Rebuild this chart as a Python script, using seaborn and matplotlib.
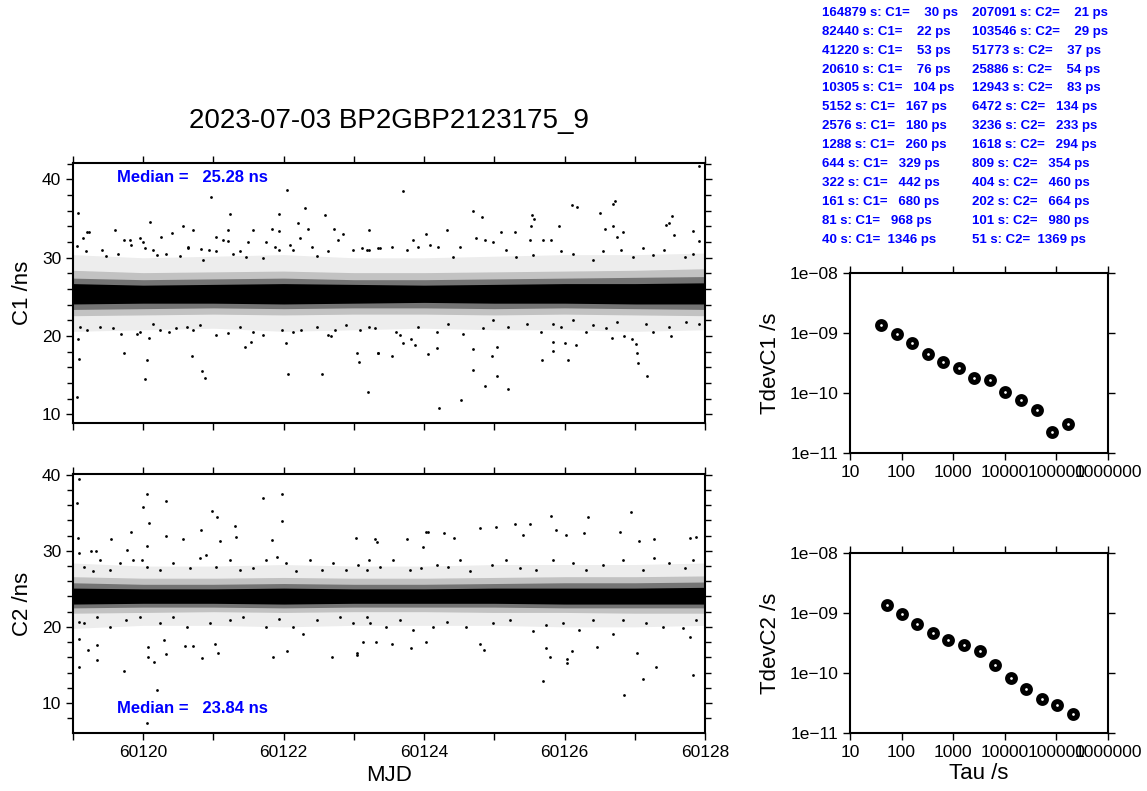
import numpy as np
import pandas as pd
import seaborn as sns
from matplotlib import pyplot as plt
from matplotlib.ticker import MultipleLocator, FuncFormatter, NullLocator, FixedLocator

title = '2023-07-03 BP2GBP2123175_9'

# envelope of the dense band of points (ns), read at whole MJD days
band_mjd = [60119, 60120, 60121, 60122, 60123, 60124, 60125, 60126, 60127, 60128]
c1_core_lo = [24.1, 24.2, 24.2, 24.1, 24.2, 24.3, 24.2, 24.2, 24.1, 24.1]
c1_core_hi = [26.7, 26.5, 26.6, 26.7, 26.6, 26.5, 26.6, 26.7, 26.7, 26.8]
c1_dense_lo = [23.4, 23.5, 23.6, 23.5, 23.6, 23.6, 23.5, 23.6, 23.5, 23.4]
c1_dense_hi = [27.4, 27.2, 27.3, 27.4, 27.2, 27.2, 27.3, 27.4, 27.5, 27.6]
c1_mid_lo = [22.6, 22.7, 22.8, 22.7, 22.8, 22.8, 22.7, 22.8, 22.7, 22.6]
c1_mid_hi = [28.4, 28.1, 28.2, 28.3, 28.1, 28.1, 28.2, 28.3, 28.4, 28.6]
c1_out_lo = [20.6, 20.8, 21.0, 20.6, 20.8, 21.0, 20.8, 20.8, 20.6, 20.8]
c1_out_hi = [30.4, 30.0, 30.2, 30.4, 30.0, 30.0, 30.2, 30.4, 30.4, 30.6]

c2_core_lo = [23.0, 23.1, 23.1, 23.0, 23.1, 23.1, 23.1, 23.0, 23.0, 23.0]
c2_core_hi = [25.1, 25.0, 25.0, 25.1, 25.0, 25.0, 25.1, 25.1, 25.1, 25.2]
c2_dense_lo = [22.5, 22.6, 22.6, 22.5, 22.6, 22.6, 22.6, 22.5, 22.5, 22.5]
c2_dense_hi = [25.8, 25.6, 25.6, 25.7, 25.6, 25.6, 25.7, 25.8, 25.8, 25.9]
c2_mid_lo = [21.8, 21.9, 22.0, 21.9, 22.0, 22.0, 21.9, 21.9, 21.8, 21.8]
c2_mid_hi = [26.6, 26.4, 26.4, 26.5, 26.4, 26.4, 26.5, 26.6, 26.6, 26.7]
c2_out_lo = [19.8, 20.2, 20.2, 20.0, 20.2, 20.2, 20.2, 20.0, 20.0, 20.2]
c2_out_hi = [28.4, 28.0, 28.0, 28.2, 28.0, 28.0, 28.2, 28.2, 28.2, 28.4]

# isolated points
c1_mjd = [60119.07, 60119.06, 60119.14, 60119.20, 60119.23, 60119.06, 60119.08, 60119.07,
          60119.60, 60119.73, 60119.73, 60119.95, 60120.02, 60120.06, 60120.10, 60120.08,
          60120.25, 60120.41, 60120.57, 60120.64, 60120.71, 60120.70, 60120.83, 60120.88,
          60120.96, 60121.04, 60121.23, 60121.21, 60121.45, 60121.54, 60121.57, 60121.84,
          60121.94, 60121.93, 60122.05, 60122.04, 60122.06, 60122.20, 60122.31, 60122.35,
          60122.54, 60122.59, 60122.72, 60122.63, 60122.68, 60123.04, 60123.07, 60123.20,
          60123.21, 60123.34, 60123.70, 60123.84, 60124.03, 60124.33, 60124.70, 60124.83,
          60125.10, 60125.30, 60125.54, 60125.57, 60125.52, 60125.51, 60125.92, 60126.11,
          60126.18, 60126.51, 60126.69, 60126.72, 60126.57, 60126.69, 60126.83, 60126.74,
          60127.45, 60127.53, 60127.49, 60127.83, 60127.92, 60127.56, 60127.92,
          60123.35, 60123.54, 60123.60, 60123.70, 60123.82, 60123.87, 60124.05, 60124.19,
          60124.21, 60124.53, 60124.69, 60124.69, 60124.86, 60124.96, 60125.04, 60125.19,
          60125.04, 60125.68, 60125.84, 60125.83, 60126.00, 60126.05, 60126.17, 60125.95,
          60126.31, 60126.67, 60126.85, 60126.96, 60127.02, 60127.03, 60127.04, 60127.17,
          60127.52]
c1_ns = [35.7, 31.5, 32.5, 33.3, 33.3, 12.2, 17.1, 19.6,
         33.6, 32.3, 17.9, 32.5, 14.5, 17.0, 34.6, 19.8,
         32.6, 33.1, 34.0, 31.4, 33.5, 17.5, 15.5, 14.6,
         37.7, 32.7, 35.6, 33.6, 18.6, 19.2, 33.6, 33.7,
         35.6, 33.4, 38.7, 19.1, 15.2, 34.4, 36.4, 33.7,
         15.1, 35.4, 33.7, 20.1, 20.0, 17.8, 16.7, 12.9,
         33.5, 17.8, 38.5, 32.3, 33.0, 33.6, 36.0, 35.2,
         33.3, 33.3, 35.4, 35.0, 34.0, 32.3, 34.1, 36.7,
         36.5, 35.7, 36.9, 37.2, 33.7, 34.1, 33.3, 32.6,
         34.2, 35.3, 34.5, 33.4, 41.7, 32.9, 32.2,
         17.9, 17.4, 20.5, 19.1, 19.6, 18.8, 17.7, 18.5,
         10.8, 11.9, 18.3, 15.7, 13.6, 17.4, 14.9, 13.3,
         18.6, 16.9, 18.1, 19.3, 19.1, 16.9, 18.9, 21.1,
         20.5, 19.8, 20.0, 19.6, 19.0, 17.8, 16.5, 14.9,
         20.0]

# points at the fringe of the band
c1_fringe_mjd = [60119.18, 60119.41, 60119.47, 60119.64, 60119.81, 60119.83, 60120.00, 60120.03,
                 60120.14, 60120.20, 60120.33, 60120.52, 60120.64, 60120.82, 60120.85, 60120.93,
                 60121.04, 60121.13, 60121.21, 60121.28, 60121.38, 60121.47, 60121.49, 60121.71,
                 60121.75, 60121.88, 60121.94, 60122.09, 60122.14, 60122.23, 60122.40, 60122.47,
                 60122.63, 60122.77, 60122.85, 60122.99, 60123.11, 60123.22, 60123.34,
                 60119.10, 60119.20, 60119.38, 60119.57, 60119.69, 60119.91, 60119.95, 60120.14,
                 60120.24, 60120.36, 60120.47, 60120.62, 60120.71, 60120.81, 60121.04, 60121.21,
                 60121.38, 60121.57, 60121.71, 60121.98, 60122.13, 60122.25, 60122.47, 60122.73,
                 60122.89, 60123.08, 60123.22,
                 60123.18, 60123.37, 60123.54, 60123.75, 60123.91, 60124.08, 60124.20, 60124.41,
                 60124.51, 60124.74, 60124.86, 60124.98, 60125.17, 60125.31, 60125.55, 60125.69,
                 60125.81, 60125.95, 60126.12, 60126.40, 60126.55, 60126.81, 60126.97, 60127.12,
                 60127.26, 60127.42, 60127.71, 60127.83,
                 60123.30, 60123.65, 60123.91, 60124.18, 60124.34, 60124.55, 60124.84, 60124.98,
                 60125.19, 60125.46, 60125.67, 60125.83, 60126.12, 60126.40, 60126.59, 60126.74,
                 60127.16, 60127.26, 60127.49, 60127.73, 60127.92]
c1_fringe_ns = [30.8, 31.0, 30.2, 30.5, 32.3, 31.6, 32.0, 31.2,
                31.0, 30.3, 30.5, 30.2, 31.2, 31.1, 29.7, 31.0,
                30.8, 32.3, 32.2, 30.5, 30.8, 30.1, 32.0, 30.0,
                32.0, 31.4, 31.0, 31.6, 31.0, 32.5, 31.4, 30.2,
                30.8, 32.3, 33.0, 31.0, 31.2, 31.0, 31.2,
                21.2, 20.8, 21.2, 21.0, 20.3, 20.3, 20.5, 21.6,
                20.8, 20.5, 21.0, 21.2, 20.8, 21.4, 20.1, 20.4,
                21.2, 20.5, 20.1, 20.8, 20.5, 20.8, 21.2, 20.8,
                21.4, 20.8, 21.2,
                31.0, 31.2, 31.4, 31.0, 31.4, 31.6, 31.4, 30.1,
                31.4, 32.5, 32.3, 32.0, 31.0, 30.1, 30.3, 32.3,
                32.3, 30.8, 30.5, 29.7, 30.8, 31.0, 30.1, 31.3,
                30.3, 31.0, 30.1, 30.5,
                21.0, 20.1, 21.2, 20.5, 21.6, 20.3, 21.0, 22.0,
                21.2, 21.6, 20.5, 21.6, 22.0, 21.4, 21.0, 21.8,
                21.6, 20.5, 21.2, 21.8, 21.6]

c2_mjd = [60119.09, 60119.06, 60119.07, 60119.09, 60119.09, 60119.08, 60119.08, 60119.22,
          60119.34, 60119.34, 60119.25, 60119.33, 60119.54, 60119.72, 60119.83, 60119.77,
          60119.99, 60120.05, 60120.08, 60120.05, 60120.07, 60120.07, 60120.15, 60120.20,
          60120.05, 60120.32, 60120.32, 60120.30, 60120.33, 60120.57, 60120.82, 60120.98,
          60121.05, 60121.09, 60121.02, 60121.07, 60120.83, 60120.59, 60120.71, 60121.31,
          60121.32, 60121.71, 60121.83, 60121.98, 60121.98, 60121.85, 60122.05, 60122.69,
          60123.04, 60123.04, 60123.30, 60123.03,
          60123.33, 60123.75, 60123.98, 60124.03, 60124.05, 60124.29, 60124.42, 60124.80,
          60125.03, 60125.29, 60125.51, 60125.41, 60125.80, 60125.88, 60126.02, 60126.33,
          60126.28, 60126.79, 60126.95, 60127.06, 60127.28, 60127.78, 60127.87,
          60123.13, 60123.32, 60123.54, 60123.81, 60124.02, 60124.85, 60124.79, 60125.69,
          60125.79, 60125.73, 60126.03, 60126.04, 60126.11, 60126.46, 60126.84, 60127.03,
          60127.12, 60127.30, 60127.83, 60127.78]
c2_ns = [39.5, 36.3, 31.7, 29.7, 14.7, 20.7, 18.4, 16.9,
         15.7, 17.6, 30.0, 30.0, 31.5, 14.2, 32.5, 30.1,
         35.7, 37.5, 33.7, 30.6, 16.0, 17.3, 15.4, 11.7,
         7.3, 36.6, 32.0, 18.3, 16.5, 31.5, 32.8, 35.2,
         34.4, 31.3, 17.8, 16.6, 15.9, 17.5, 17.5, 33.3,
         31.8, 36.9, 31.4, 37.5, 33.9, 16.1, 16.8, 16.1,
         16.6, 16.3, 31.6, 31.7,
         31.1, 31.6, 30.5, 32.5, 32.5, 32.3, 31.7, 33.0,
         33.1, 33.5, 33.5, 32.1, 34.6, 32.7, 32.1, 34.4,
         32.4, 32.5, 35.1, 31.3, 31.5, 31.7, 31.8,
         18.0, 18.0, 17.7, 17.2, 18.0, 16.9, 17.7, 12.9,
         16.1, 17.2, 15.8, 15.3, 16.8, 17.3, 11.1, 16.6,
         13.2, 14.7, 13.7, 18.7]

c2_fringe_mjd = [60119.15, 60119.29, 60119.38, 60119.53, 60119.67, 60119.86, 60119.98, 60120.05,
                 60120.24, 60120.43, 60120.66, 60120.81, 60120.90, 60121.04, 60121.23, 60121.38,
                 60121.57, 60121.75, 60121.90, 60122.04, 60122.18, 60122.37, 60122.54, 60122.70,
                 60122.89, 60123.06, 60123.22,
                 60119.15, 60119.34, 60119.53, 60119.76, 60119.95, 60120.24, 60120.43, 60120.62,
                 60120.95, 60121.23, 60121.42, 60121.75, 60121.94, 60122.13, 60122.28, 60122.47,
                 60122.80, 60122.99, 60123.18,
                 60123.18, 60123.37, 60123.56, 60123.80, 60123.96, 60124.18, 60124.34, 60124.51,
                 60124.65, 60124.96, 60125.17, 60125.36, 60125.60, 60125.83, 60126.12, 60126.31,
                 60126.55, 60126.83, 60127.12, 60127.28, 60127.49, 60127.71, 60127.83,
                 60123.23, 60123.46, 60123.65, 60123.84, 60124.13, 60124.32, 60124.60, 60124.98,
                 60125.22, 60125.55, 60125.74, 60125.98, 60126.21, 60126.40, 60126.69, 60126.83,
                 60127.16, 60127.40, 60127.68, 60127.87]
c2_fringe_ns = [27.9, 27.3, 28.8, 27.5, 28.4, 28.8, 28.8, 27.9,
                27.5, 28.4, 27.7, 29.0, 29.5, 27.9, 28.8, 27.5,
                27.7, 28.8, 29.2, 28.4, 27.3, 28.8, 27.5, 28.4,
                27.5, 28.1, 28.8,
                20.5, 21.3, 20.0, 20.9, 21.3, 20.5, 21.3, 20.0,
                20.5, 20.9, 21.3, 20.0, 21.1, 20.0, 19.1, 20.9,
                21.3, 20.5, 21.3,
                27.5, 27.9, 28.8, 27.5, 27.7, 28.1, 27.9, 28.8,
                27.3, 28.1, 28.8, 27.7, 27.5, 28.8, 28.4, 27.5,
                28.1, 28.8, 27.5, 29.0, 28.4, 27.7, 28.8,
                20.5, 20.0, 20.9, 19.6, 20.0, 20.7, 20.0, 20.5,
                20.9, 19.4, 20.2, 20.5, 19.6, 20.9, 19.1, 20.9,
                20.5, 20.0, 19.8, 20.9]

c1_median = 25.28
c2_median = 23.84

tau_c1 = [164879, 82440, 41220, 20610, 10305, 5152, 2576, 1288, 644, 322, 161, 81, 40]
tdev_c1 = [30, 22, 53, 76, 104, 167, 180, 260, 329, 442, 680, 968, 1346]
tau_c2 = [207091, 103546, 51773, 25886, 12943, 6472, 3236, 1618, 809, 404, 202, 101, 51]
tdev_c2 = [21, 29, 37, 54, 83, 134, 233, 294, 354, 460, 664, 980, 1369]

sns.set_theme(style='ticks')
plt.rcParams['font.family'] = ['Liberation Sans', 'DejaVu Sans']
plt.rcParams['axes.linewidth'] = 1.5
plt.rcParams['text.color'] = 'black'
plt.rcParams['axes.labelcolor'] = 'black'

W, H = 1147, 791
fig = plt.figure(figsize=(W / 100, H / 100), dpi=100)


def px_axes(left, top, right, bottom):
    return fig.add_axes([left / W, 1 - bottom / H, (right - left) / W, (bottom - top) / H])


def style_frame(ax):
    ax.tick_params(which='both', direction='out', top=True, right=True,
                   labeltop=False, labelright=False, labelsize=12.5,
                   width=1.0, color='black', labelcolor='black')
    ax.tick_params(which='major', length=5)
    ax.tick_params(which='minor', length=4)
    for s in ax.spines.values():
        s.set_visible(True)
        s.set_color('black')


def time_panel(ax, mjd, ns, fringe_mjd, fringe_ns, bands, ylabel, ylim, median, med_y):
    for lo, hi, a in bands:
        ax.fill_between(band_mjd, lo, hi, color='black', alpha=a, linewidth=0)
    df = pd.DataFrame({'mjd': list(mjd) + list(fringe_mjd), 'ns': list(ns) + list(fringe_ns)})
    sns.scatterplot(data=df, x='mjd', y='ns', ax=ax, s=4, color='black',
                    linewidth=0, legend=False)
    ax.set_xlim(60119, 60128)
    ax.set_ylim(*ylim)
    ax.xaxis.set_major_locator(MultipleLocator(1))
    ax.xaxis.set_major_formatter(FuncFormatter(lambda v, p: '%d' % v if int(round(v)) % 2 == 0 else ''))
    ax.yaxis.set_major_locator(MultipleLocator(10))
    ax.yaxis.set_minor_locator(MultipleLocator(2))
    ax.set_ylabel(ylabel, fontsize=16, labelpad=6)
    ax.set_xlabel('')
    style_frame(ax)
    ax.text(0.07, med_y, 'Median =   %.2f ns' % median, transform=ax.transAxes,
            color='#0000ff', fontsize=12, fontweight='bold', va='center', ha='left')


ax1 = px_axes(73, 163, 705, 423)
time_panel(ax1, c1_mjd, c1_ns, c1_fringe_mjd, c1_fringe_ns,
           [(c1_out_lo, c1_out_hi, 0.07), (c1_mid_lo, c1_mid_hi, 0.18),
            (c1_dense_lo, c1_dense_hi, 0.4), (c1_core_lo, c1_core_hi, 1.0)],
           'C1 /ns', (8.9, 42.1), c1_median, 0.945)
ax1.tick_params(axis='x', labelbottom=False)

ax2 = px_axes(73, 474, 705, 733)
time_panel(ax2, c2_mjd, c2_ns, c2_fringe_mjd, c2_fringe_ns,
           [(c2_out_lo, c2_out_hi, 0.07), (c2_mid_lo, c2_mid_hi, 0.18),
            (c2_dense_lo, c2_dense_hi, 0.4), (c2_core_lo, c2_core_hi, 1.0)],
           'C2 /ns', (6.05, 40.1), c2_median, 0.095)
ax2.set_xlabel('MJD', fontsize=16, labelpad=4)

fig.text(389 / W, 1 - 121 / H, title, fontsize=20, ha='center', va='center')


def tdev_panel(ax, tau, tdev, ylabel):
    df = pd.DataFrame({'tau': tau, 'tdev': np.array(tdev) * 1e-12})
    sns.scatterplot(data=df, x='tau', y='tdev', ax=ax, s=32, color='white',
                    edgecolor='black', linewidth=3.6, legend=False)
    ax.set_xscale('log')
    ax.set_yscale('log')
    ax.set_xlim(10, 1e6)
    ax.set_ylim(1e-11, 1e-8)
    ax.xaxis.set_major_locator(FixedLocator([10, 100, 1000, 10000, 100000, 1000000]))
    ax.yaxis.set_major_locator(FixedLocator([1e-11, 1e-10, 1e-9, 1e-8]))
    ax.xaxis.set_minor_locator(NullLocator())
    ax.yaxis.set_minor_locator(NullLocator())
    ax.xaxis.set_major_formatter(FuncFormatter(lambda v, p: '%d' % round(v)))
    ax.yaxis.set_major_formatter(FuncFormatter(lambda v, p: ('%.0e' % v).replace('-', '\u2212')))
    ax.set_ylabel(ylabel, fontsize=16, labelpad=6)
    ax.set_xlabel('')
    style_frame(ax)


ax3 = px_axes(850, 273, 1108, 453)
tdev_panel(ax3, tau_c1, tdev_c1, 'TdevC1 /s')
ax4 = px_axes(850, 553, 1108, 733)
tdev_panel(ax4, tau_c2, tdev_c2, 'TdevC2 /s')
ax4.set_xlabel('Tau /s', fontsize=16, labelpad=2)

# table of tdev values
for i, (t1, v1, t2, v2) in enumerate(zip(tau_c1, tdev_c1, tau_c2, tdev_c2)):
    y = 1 - (12.7 + 18.94 * i) / H
    fig.text(821.7 / W, y, '%d s: C1= %5d ps' % (t1, v1), color='#0000ff',
             fontsize=9.5, fontweight='bold', va='center', ha='left')
    fig.text(971.7 / W, y, '%d s: C2= %5d ps' % (t2, v2), color='#0000ff',
             fontsize=9.5, fontweight='bold', va='center', ha='left')

fig.savefig('out.png', dpi=100)
